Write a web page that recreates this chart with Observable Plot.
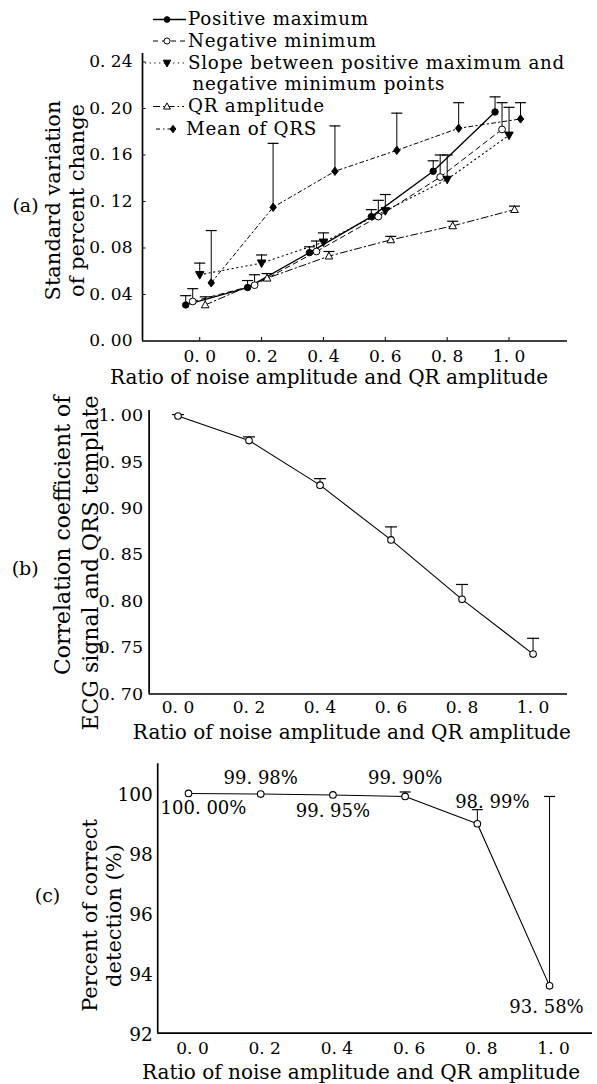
<!DOCTYPE html>
<html><head><meta charset="utf-8">
<script src="https://cdn.jsdelivr.net/npm/d3@7"></script>
<script src="https://cdn.jsdelivr.net/npm/@observablehq/plot@0.6"></script>
<style>
html,body{margin:0;padding:0;background:#fff;}
#wrap{position:relative;width:597px;height:1084px;overflow:hidden;background:#fff;}
#wrap > svg{position:absolute;left:0;}
#wrap text{font-family:'DejaVu Serif', serif;}
</style></head><body><div id="wrap"></div>
<script>
// ---------- data ----------
const ratios = [0, 0.2, 0.4, 0.6, 0.8, 1.0];

// (a) standard variation of percent change
const seriesNames = ["Positive maximum", "Negative minimum",
  "Slope between positive maximum and\nnegative minimum points", "QR amplitude", "Mean of QRS"];
const posMax       = [0.031, 0.046, 0.076, 0.107, 0.146, 0.197];
const posMaxUpper  = [0.039, 0.052, 0.081, 0.113, 0.155, 0.210];
const negMin       = [0.034, 0.048, 0.077, 0.107, 0.141, 0.182];
const negMinUpper  = [0.045, 0.057, 0.086, 0.121, 0.160, 0.205];
const slope        = [0.057, 0.067, 0.085, 0.112, 0.139, 0.177];
const slopeUpper   = [0.067, 0.074, 0.093, 0.126, 0.160, 0.201];
const qrAmp        = [0.031, 0.054, 0.073, 0.087, 0.099, 0.113];
const qrAmpUpper   = [0.038, 0.058, 0.077, 0.090, 0.103, 0.116];
const meanQRS      = [0.050, 0.115, 0.146, 0.164, 0.183, 0.191];
const meanQRSUpper = [0.095, 0.170, 0.185, 0.196, 0.205, 0.205];
const yTicksA = [0, 0.04, 0.08, 0.12, 0.16, 0.20, 0.24];

// (b) correlation coefficient
const corr      = [0.9995, 0.973, 0.925, 0.866, 0.802, 0.743];
const corrUpper = [1.001, 0.977, 0.932, 0.880, 0.818, 0.760];
const yTicksB = [0.70, 0.75, 0.80, 0.85, 0.90, 0.95, 1.00];

// (c) percent of correct detection
const detect      = [100.00, 99.98, 99.95, 99.90, 98.99, 93.58];
const detectUpper = [null, null, null, 100.05, 99.46, 99.90];
const yTicksC = [92, 94, 96, 98, 100];

const xTitle  = "Ratio of noise amplitude and QR amplitude";
const yTitleA = "Standard variation\nof percent change";
const yTitleB = "Correlation coefficient of\nECG signal and QRS template";
const yTitleC = "Percent of correct\ndetection (%)";

// ---------- styling helpers ----------
const W = 597;
const FONT = "'DejaVu Serif', serif";
const wrap = document.getElementById("wrap");
const f1 = d => d.toFixed(1).replace(".", ". ");
const f2 = d => d.toFixed(2).replace(".", ". ");
const pct = d => d.toFixed(2).replace(".", ". ") + "%";

const rr = s => Math.sqrt(s / Math.PI);
const sym = {
  cap: {draw(c, s) { const r = rr(s); c.moveTo(-r, 0); c.lineTo(r, 0); }},
  down: {draw(c, s) { const r = rr(s); c.moveTo(-r, -r * 0.75); c.lineTo(r, -r * 0.75); c.lineTo(0, r * 1.05); c.closePath(); }},
  up: {draw(c, s) { const r = rr(s); c.moveTo(-r, r * 0.75); c.lineTo(r, r * 0.75); c.lineTo(0, -r * 1.05); c.closePath(); }},
  diamond: {draw(c, s) { const r = rr(s); c.moveTo(0, -r * 1.3); c.lineTo(r, 0); c.lineTo(0, r * 1.3); c.lineTo(-r, 0); c.closePath(); }}
};

function panel(cfg, build) {
  const {top, height, left, right, frameTop, frameBottom} = cfg;
  const txt = (str, X, Y, o = {}) => Plot.text([str], {text: d => d, frameAnchor: "top-left",
    textAnchor: "middle", lineAnchor: "middle",
    dx: X - left, dy: Y - frameTop, fontFamily: FONT, fill: "#000", ...o});
  const marks = build(txt, {fw: right - left, fh: frameBottom - frameTop});
  const svg = Plot.plot({
    width: W, height,
    marginLeft: left, marginRight: W - right, marginTop: frameTop - top, marginBottom: top + height - frameBottom,
    x: {domain: cfg.xDomain}, y: {domain: cfg.yDomain},
    style: `font-family: ${FONT}; font-size: 17px; background: transparent; overflow: visible; color: #000;`,
    marks
  });
  svg.style.position = "absolute"; svg.style.top = top + "px"; svg.style.left = "0px";
  wrap.appendChild(svg);
}

function errorMarks(rows, dx, capR) {
  const r = rows.filter(d => d.u != null);
  return [
    Plot.ruleX(r, {x: "x", y1: "y", y2: "u", dx, stroke: "#000", strokeWidth: 1}),
    Plot.dot(r, {x: "x", y: "u", dx, symbol: sym.cap, r: capR, stroke: "#000", fill: "none", strokeWidth: 1.2})
  ];
}

// ---------- (a) ----------
const seriesA = [
  {values: posMax,  upper: posMaxUpper,  dx: -14,  dash: null,         symbol: "circle",    fill: "#000", r: 3.2, sw: 1.3},
  {values: negMin,  upper: negMinUpper,  dx: -7,   dash: "5,4",        symbol: "circle",    fill: "#fff", r: 3.4, sw: 1},
  {values: slope,   upper: slopeUpper,   dx: 0,    dash: "1.2,3.5",    symbol: sym.down,    fill: "#000", r: 4.2, sw: 1.1},
  {values: qrAmp,   upper: qrAmpUpper,   dx: 5.5,  dash: "7,3,1.5,3",  symbol: sym.up,      fill: "#fff", r: 3.8, sw: 1},
  {values: meanQRS, upper: meanQRSUpper, dx: 11.5, dash: "4,3,1.5,3",  symbol: sym.diamond, fill: "#000", r: 3.2, sw: 1}
];

const cfgA = {top: 0, height: 392, left: 142, right: 567, frameTop: 53, frameBottom: 340.5,
  xDomain: [-0.185, 1.189], yDomain: [0, 0.2473]};
panel(cfgA, (txt, {fw, fh}) => {
  const m = [
    Plot.ruleX([cfgA.xDomain[0]], {stroke: "#000", strokeWidth: 1.7}),
    Plot.ruleY([cfgA.yDomain[0]], {stroke: "#000", strokeWidth: 1.7}),
    Plot.tickX(ratios, {x: d => d, insetTop: fh - 3.5, stroke: "#000"}),
    Plot.tickY(yTicksA.slice(1), {y: d => d, insetRight: fw - 3.5, stroke: "#000"}),
    Plot.axisX({ticks: ratios, tickSize: 0, tickPadding: 9, tickFormat: f1, label: null, fontSize: 17, fontFamily: FONT}),
    Plot.axisY({ticks: yTicksA, tickSize: 0, tickPadding: 10, tickFormat: f2, label: null, fontSize: 17, fontFamily: FONT})
  ];
  const rowsAll = seriesA.map(s => ratios.map((x, i) => ({x, y: s.values[i], u: s.upper[i]})));
  seriesA.forEach((s, k) => m.push(Plot.line(rowsAll[k], {x: "x", y: "y", dx: s.dx, stroke: "#000", strokeWidth: s.sw, strokeDasharray: s.dash})));
  seriesA.forEach((s, k) => m.push(...errorMarks(rowsAll[k], s.dx, 5.5)));
  seriesA.forEach((s, k) => m.push(Plot.dot(rowsAll[k], {x: "x", y: "y", dx: s.dx, symbol: s.symbol, r: s.r, fill: s.fill, stroke: "#000", strokeWidth: 1})));
  m.push(txt(yTitleA, 63.8, 200, {rotate: -90, fontSize: 21, lineHeight: 1.16}));
  m.push(txt("(a)", 25, 205, {fontSize: 19}));
  m.push(txt(xTitle, 328.5, 377, {fontSize: 20}));
  return m;
});

// legend for (a)
(function legend() {
  const g = d3.select(wrap).append("svg").attr("width", W).attr("height", 150)
    .style("position", "absolute").style("top", "0px").style("left", "0px").style("overflow", "visible");
  const baselines = [25, 46.5, 68.5, 112, 134.5];
  const textX = [188, 188, 188, 188, 186];
  const lineX = [[153, 186], [153, 186], [145, 185], [153, 184], [156, 178]];
  const markX = [167, 167, 167, 167, 173];
  seriesA.forEach((s, i) => {
    const cy = baselines[i] - 5.5;
    g.append("line").attr("x1", lineX[i][0]).attr("x2", lineX[i][1]).attr("y1", cy).attr("y2", cy)
      .attr("stroke", "#000").attr("stroke-width", s.sw).attr("stroke-dasharray", s.dash);
    const type = typeof s.symbol === "string" ? d3.symbolCircle : s.symbol;
    g.append("path").attr("d", d3.symbol(type, Math.PI * s.r * s.r * 0.8)())
      .attr("transform", `translate(${markX[i]},${cy})`).attr("fill", s.fill).attr("stroke", "#000");
    const lines = seriesNames[i].split("\n");
    lines.forEach((t, j) => {
      g.append("text").attr("x", textX[i] + (j ? 4.5 : 0)).attr("y", baselines[i] + j * 21.5)
        .attr("font-family", FONT).attr("font-size", 18.3).attr("letter-spacing", "0.75px")
        .attr("fill", "#000").text(t);
    });
  });
})();

// ---------- (b) ----------
const cfgB = {top: 392, height: 353, left: 148.6, right: 567, frameTop: 410, frameBottom: 693.5,
  xDomain: [-0.0814, 1.097], yDomain: [0.70, 1.0054]};
panel(cfgB, (txt) => {
  const rows = ratios.map((x, i) => ({x, y: corr[i], u: corrUpper[i]}));
  return [
    Plot.ruleX([cfgB.xDomain[0]], {stroke: "#000", strokeWidth: 1.7}),
    Plot.ruleY([cfgB.yDomain[0]], {stroke: "#000", strokeWidth: 1.7}),
    Plot.axisX({ticks: ratios, tickSize: 0, tickPadding: 7, tickFormat: f1, label: null, fontSize: 17, fontFamily: FONT}),
    Plot.axisY({ticks: yTicksB, tickSize: 0, tickPadding: 6, tickFormat: f2, label: null, fontSize: 17.5, fontFamily: FONT}),
    Plot.line(rows, {x: "x", y: "y", stroke: "#000", strokeWidth: 1.1}),
    ...errorMarks(rows, 0, 6),
    Plot.dot(rows, {x: "x", y: "y", r: 3.3, fill: "#fff", stroke: "#000", strokeWidth: 1.1}),
    txt(yTitleB, 74.25, 395, {rotate: -90, textAnchor: "end", fontSize: 22, lineHeight: 1.3}),
    txt("(b)", 24.7, 568, {fontSize: 19}),
    txt(xTitle, 351.4, 732, {fontSize: 20})
  ];
});

// ---------- (c) ----------
const cfgC = {top: 745, height: 339, left: 157.2, right: 592, frameTop: 763.3, frameBottom: 1032.7,
  xDomain: [-0.0853, 1.119], yDomain: [92, 100.99]};
const labelOffsets = [[15, 15], [0, -16], [0, 16], [0, -18], [15, -21], [-3, 21]];
panel(cfgC, (txt) => {
  const rows = ratios.map((x, i) => ({x, y: detect[i], u: detectUpper[i]}));
  return [
    Plot.ruleX([cfgC.xDomain[0]], {stroke: "#000", strokeWidth: 1.7}),
    Plot.ruleY([cfgC.yDomain[0]], {stroke: "#000", strokeWidth: 1.7}),
    Plot.axisX({ticks: ratios, tickSize: 0, tickPadding: 9, dx: 4, tickFormat: f1, label: null, fontSize: 17, fontFamily: FONT}),
    Plot.axisY({ticks: yTicksC, tickSize: 0, tickPadding: 5, dy: 2, tickFormat: d => String(d), label: null, fontSize: 18.5, fontFamily: FONT}),
    Plot.line(rows, {x: "x", y: "y", stroke: "#000", strokeWidth: 1.1}),
    ...errorMarks(rows, 0, 5.5),
    Plot.dot(rows, {x: "x", y: "y", r: 3.3, fill: "#fff", stroke: "#000", strokeWidth: 1.1}),
    ...rows.map((d, i) => Plot.text([d], {x: "x", y: "y", text: d => pct(d.y), dx: labelOffsets[i][0], dy: labelOffsets[i][1],
      fontFamily: FONT, fontSize: 18, fill: "#000"})),
    txt(yTitleC, 100.75, 915, {rotate: -90, fontSize: 21, lineHeight: 1.17}),
    txt("(c)", 47, 895, {fontSize: 19}),
    txt(xTitle, 360.5, 1071.7, {fontSize: 20})
  ];
});
</script>
</body></html>
